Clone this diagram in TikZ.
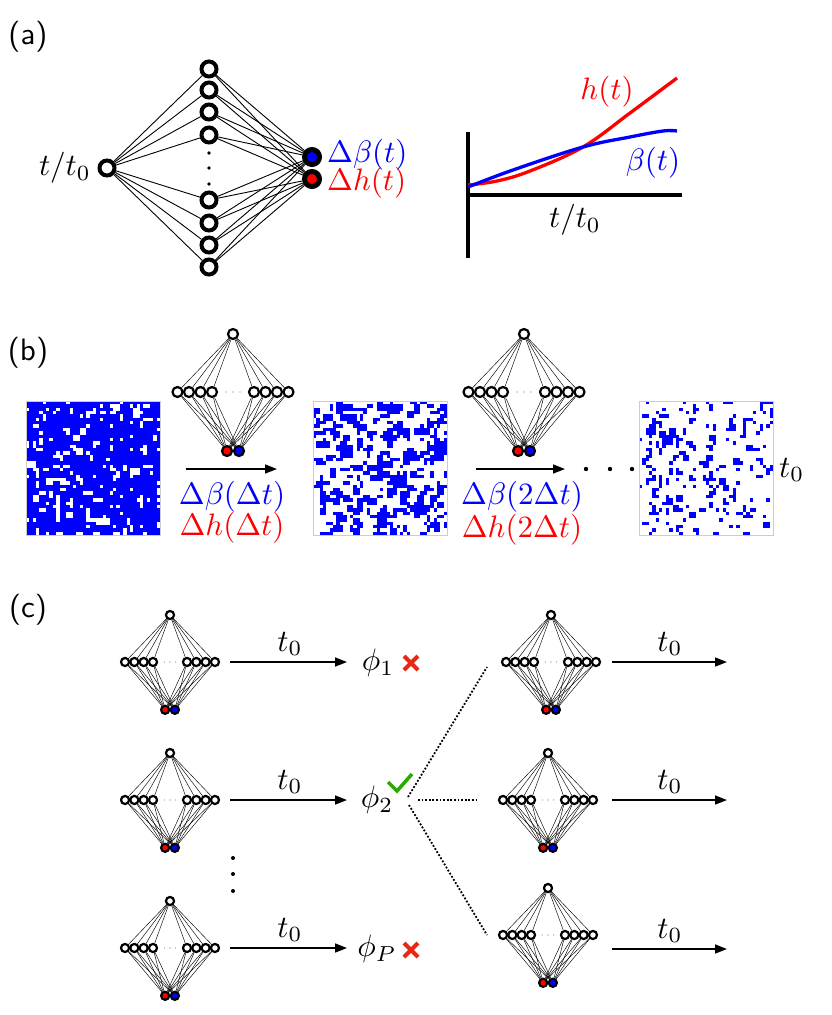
\documentclass[tikz,border=0pt]{standalone}
\usetikzlibrary{arrows.meta}
\definecolor{myred}{RGB}{255,0,0}
\definecolor{myblue}{RGB}{0,0,255}
\definecolor{xred}{RGB}{232,40,20}
\definecolor{ckgreen}{RGB}{40,170,0}
\tikzset{
 txt/.style={font=\fontsize{10}{12}\selectfont,scale=3.1,inner sep=0.5pt},
 bign/.style={circle,draw,line width=4pt,minimum size=15pt,inner sep=0pt,fill=white},
 outn/.style={circle,draw,line width=5pt,minimum size=15pt,inner sep=0pt},
 sn/.style={circle,draw,line width=2.2pt,minimum size=10pt,inner sep=0pt,fill=white},
 sedge/.style={line width=0.45pt},
 bedge/.style={line width=0.9pt},
 arr/.style={line width=1.6pt,-{Triangle[length=12pt,width=9pt]}},
 dotl/.style={line width=1.8pt,dash pattern=on 1.8pt off 1.8pt},
 xmk/.style={xred,line width=4pt},
 panel/.style={txt,font=\fontsize{10}{12}\selectfont\sffamily},
}
\newcommand{\minet}[4]{%
 \begin{scope}[shift={(#2,#3)},scale=#4,transform shape]
  \node[sn] (#1t) at (0,0) {};
  \foreach \i/\x in {1/-55.5,2/-44,3/-32.5,4/-21,5/21,6/32.5,7/44,8/55.5}
   \node[sn] (#1m\i) at (\x,58) {};
  \node[sn,fill=myred] (#1r) at (-6,117) {};
  \node[sn,fill=myblue] (#1b) at (6,117) {};
  \foreach \x in {-7,0,7} \fill[black!60] (\x,58) circle (0.7);
  \foreach \i in {1,...,8}{
   \draw[sedge] (#1t) -- (#1m\i);
   \draw[sedge] (#1m\i) -- (#1r);
   \draw[sedge] (#1m\i) -- (#1b);
  }
 \end{scope}}
\begin{document}
\begin{tikzpicture}[x=1pt,y=-1pt]
\useasboundingbox (0,0) rectangle (831,1015);
% ---------- panel (a)
\node[panel] (pa) at (28,37) {(a)};
\node[bign] (in) at (107,168) {};
\foreach \i/\y in {1/69,2/90,3/112,4/135,5/200,6/223,7/245,8/267}
  \node[bign] (h\i) at (209,\y) {};
\foreach \y in {153,168,184} \fill (209,\y) circle (1.8);
\node[outn,fill=myblue] (ob) at (312,157) {};
\node[outn,fill=myred] (or) at (312,179) {};
\foreach \i in {1,...,8}{
  \draw[bedge] (in) -- (h\i);
  \draw[bedge] (h\i) -- (ob);
  \draw[bedge] (h\i) -- (or);
}
\node[txt,anchor=east] (tin) at (93,168) {$t/t_0$};
\node[txt,anchor=west,text=myblue] (lb) at (325,155) {$\Delta\beta(t)$};
\node[txt,anchor=west,text=myred] (lh) at (325,183) {$\Delta h(t)$};
% plot
\draw[line width=3.3pt] (468,132) -- (468,258);
\draw[line width=3.3pt] (466,195) -- (682,195);
\draw[myred,line width=3.3pt] plot[smooth,tension=0.6] coordinates {(468,185) (497,181) (530,171) (583,147) (630,113) (677,78)};
\draw[myblue,line width=3.3pt] plot[smooth,tension=0.6] coordinates {(468,187) (513,170) (583,147) (630,137) (663,131) (677,131)};
\node[txt,text=myred] (hl) at (607,92) {$h(t)$};
\node[txt,text=myblue] (bl) at (653,163) {$\beta(t)$};
\node[txt] (tl) at (575,220) {$t/t_0$};
% ---------- panel (b)
\node[panel] (pb) at (28,353) {(b)};
% lattice 1
\begin{scope}
\clip (26,401) rectangle (160,535);
\fill[myblue] (26,401) rectangle (160,535);
\pgfmathsetseed{7}
\foreach \k in {1,...,190}{
  \pgfmathrandominteger{\a}{0}{39}
  \pgfmathrandominteger{\b}{0}{39}
  \pgfmathsetmacro\w{ifthenelse(rnd<0.75,1,2)}
  \pgfmathsetmacro\h{ifthenelse(rnd<0.75,1,2)}
  \fill[white] ({26+\a*3.35},{401+\b*3.35}) rectangle ++({\w*3.35},{\h*3.35});
}
\end{scope}
\draw[gray!40,line width=0.8pt] (26,401) rectangle (160,535);
% lattice 2
\begin{scope}
\clip (313,401) rectangle (447,535);
\fill[white] (313,401) rectangle (447,535);
\pgfmathsetseed{21}
\foreach \k in {1,...,420}{
  \pgfmathrandominteger{\a}{0}{39}
  \pgfmathrandominteger{\b}{0}{39}
  \pgfmathsetmacro\w{ifthenelse(rnd<0.5,1,2)}
  \pgfmathsetmacro\h{ifthenelse(rnd<0.5,1,2)}
  \fill[myblue] ({313+\a*3.35},{401+\b*3.35}) rectangle ++({\w*3.35},{\h*3.35});
}
\end{scope}
\draw[gray!40,line width=0.8pt] (313,401) rectangle (447,535);
% lattice 3
\begin{scope}
\clip (639,401) rectangle (773,535);
\fill[white] (639,401) rectangle (773,535);
\pgfmathsetseed{33}
\foreach \k in {1,...,220}{
  \pgfmathrandominteger{\a}{0}{39}
  \pgfmathrandominteger{\b}{0}{39}
  \pgfmathsetmacro\w{ifthenelse(rnd<0.75,1,2)}
  \pgfmathsetmacro\h{ifthenelse(rnd<0.75,1,2)}
  \fill[myblue] ({639+\a*3.35},{401+\b*3.35}) rectangle ++({\w*3.35},{\h*3.35});
}
\end{scope}
\draw[gray!40,line width=0.8pt] (639,401) rectangle (773,535);
% networks and arrows
\minet{B1}{233}{334}{1}
\minet{B2}{524}{334}{1}
\coordinate (ba1) at (186,469); \coordinate (ba2) at (277,469);
\coordinate (bb1) at (476,469); \coordinate (bb2) at (565,469);
\draw[arr] (ba1) -- (ba2);
\draw[arr] (bb1) -- (bb2);
\node[txt,text=myblue] (b1b) at (232,497) {$\Delta\beta(\Delta t)$};
\node[txt,text=myred] (b1h) at (232,528) {$\Delta h(\Delta t)$};
\node[txt,text=myblue] (b2b) at (522,497) {$\Delta\beta(2\Delta t)$};
\node[txt,text=myred] (b2h) at (522,530) {$\Delta h(2\Delta t)$};
\foreach \x in {586,610,632} \fill (\x,469) circle (2.2);
\node[txt,anchor=west] (t0b) at (777,470) {$t_0$};
% ---------- panel (c)
\node[panel] (pc) at (28,610) {(c)};
\minet{L1}{170}{615}{0.81}
\minet{L2}{170}{753}{0.81}
\minet{L3}{170}{901}{0.81}
\minet{R1}{551}{615}{0.81}
\minet{R2}{548}{753}{0.81}
\minet{R3}{548}{888}{0.81}
\foreach \n/\y in {1/662,2/800,3/948}{
  \coordinate (la\n) at (230,\y); \coordinate (lb\n) at (347,\y);
  \draw[arr] (la\n) -- (lb\n);
  \node[txt] (lt\n) at (290,\y-18) {$t_0$};
}
\foreach \n/\y in {1/662,2/800,3/949}{
  \coordinate (ra\n) at (612,\y); \coordinate (rb\n) at (727,\y);
  \draw[arr] (ra\n) -- (rb\n);
  \node[txt] (rt\n) at (670,\y-18) {$t_0$};
}
\node[txt] (phi1) at (378,663) {$\phi_1$};
\node[txt] (phi2) at (377,800) {$\phi_2$};
\node[txt] (phiP) at (377,949) {$\phi_P$};
\draw[xmk] (404,656) -- (418,670) (404,670) -- (418,656);
\draw[xmk] (404,943) -- (418,957) (404,957) -- (418,943);
\draw[ckgreen,line width=3.5pt] (388,782) -- (397,791) -- (412,774);
\foreach \y in {858,874,891} \fill (233,\y) circle (2);
\coordinate (d0) at (408,797); \coordinate (d1) at (487,667);
\coordinate (e0) at (418,800); \coordinate (e1) at (476,800);
\coordinate (f0) at (409,805); \coordinate (f1) at (487,935);
\draw[dotl] (d0) -- (d1);
\draw[dotl] (e0) -- (e1);
\draw[dotl] (f0) -- (f1);
\end{tikzpicture}
\end{document}
